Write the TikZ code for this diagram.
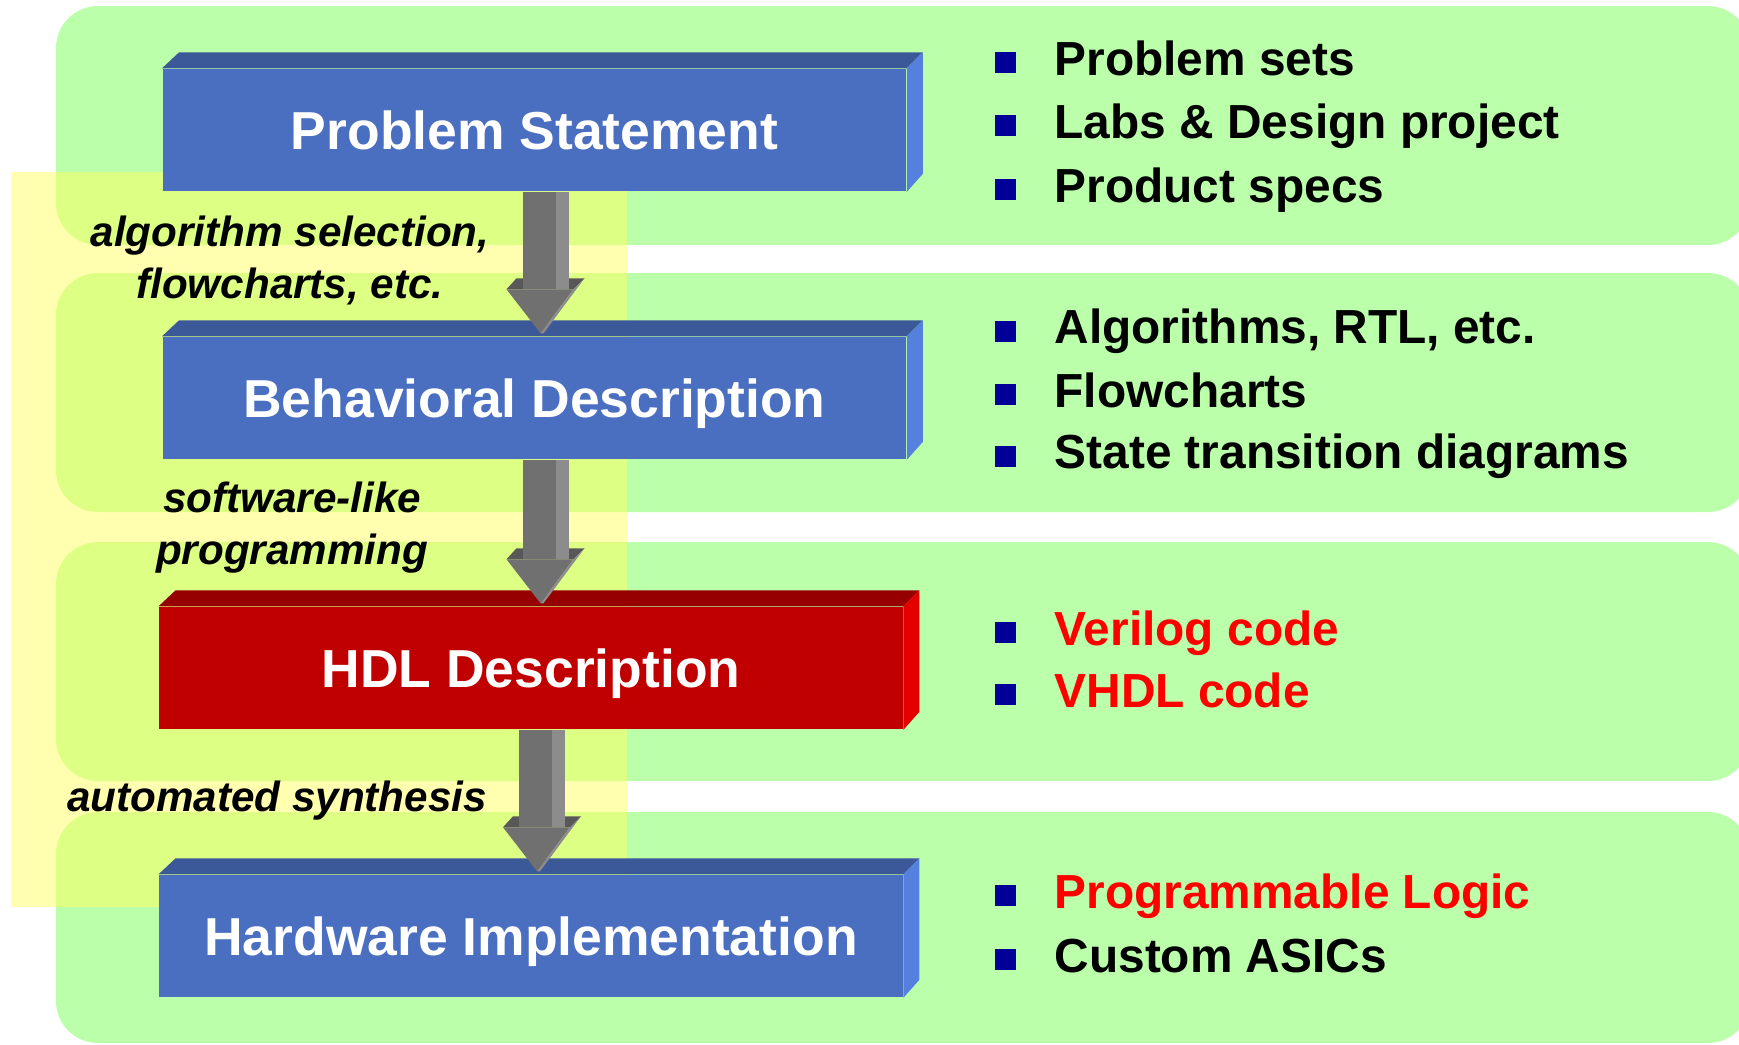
\documentclass[tikz,border=0pt]{standalone}
\usepackage{fontspec}
\setmainfont{Liberation Sans}
\usetikzlibrary{calc}
\definecolor{G1}{RGB}{187,255,170}
\definecolor{Y1}{RGB}{255,255,96}
\definecolor{B1}{RGB}{74,110,192}
\definecolor{B2}{RGB}{59,88,152}
\definecolor{B3}{RGB}{86,128,222}
\definecolor{R1}{RGB}{192,0,0}
\definecolor{R2}{RGB}{150,0,0}
\definecolor{R3}{RGB}{228,0,0}
\definecolor{N1}{RGB}{0,0,153}
\definecolor{A1}{RGB}{112,112,112}
\definecolor{A2}{RGB}{140,140,140}
\definecolor{A3}{RGB}{88,88,88}
% top and side faces of a box
\newcommand\bevel[3]{%
  \fill[#2] (#1.north west) -- ++(17,-16) -- ($(#1.north east)+(16,-16)$) -- (#1.north east) -- cycle;
  \fill[#3] (#1.north east) -- ++(16,-16) -- ($(#1.south east)+(16,-18)$) -- (#1.south east) -- cycle;
}
% thick grey arrow from one box to the next
\newcommand\flowarrow[2]{%
  \coordinate (s) at ($(#1.south)+(6,0)$);
  \coordinate (t) at ($(#1.south |- #2.north)+(6,-3)$);
  \fill[arrtop] ($(t)+(-34,-44)$) -- ($(t)+(-24,-55)$) -- ($(t)+(44,-55)$) -- ($(t)+(33,-44)$) -- cycle;
  \fill[arrmain] ($(t)+(-34,-44)$) -- ($(t)+(33,-44)$) -- (t) -- cycle;
  \fill[arrside] ($(t)+(33,-44)$) -- ($(t)+(44,-55)$) -- ($(t)+(3,0)$) -- (t) -- cycle;
  \fill[arrmain] ($(s)+(-18,0)$) rectangle ($(t)+(15,-44)$);
  \fill[arrside] ($(s)+(15,0)$) rectangle ($(t)+(28,-44)$);
}
\begin{document}
\begin{tikzpicture}[x=0.01cm, y=-0.01cm,
    band/.style={fill=G1, rounded corners=0.42cm},
    hilite/.style={fill=Y1, fill opacity=0.5},
    slab/.style={minimum width=7.43cm, minimum height=1.22cm, inner sep=0pt, text depth=0pt,
                 text=white, font=\fontsize{15.2}{18}\selectfont\bfseries},
    bluebox/.style={slab, fill=B1},
    redbox/.style={slab, fill=R1},
    note/.style={align=center, inner sep=0pt, font=\fontsize{12}{14.8}\selectfont\bfseries\itshape},
    itemtext/.style={anchor=base west, inner sep=0pt, font=\fontsize{13.6}{16}\selectfont\bfseries},
    bullet/.style={fill=N1, minimum size=0.21cm, inner sep=0pt},
    arrmain/.style={fill=A1}, arrside/.style={fill=A2}, arrtop/.style={fill=A3}]
  \useasboundingbox (0,0) rectangle (1739,1044);
  \clip (0,0) rectangle (1739,1044);

  % background bands
  \fill[band] (56,6) rectangle (1750,245);
  \fill[band] (56,273) rectangle (1750,512);
  \fill[band] (56,542) rectangle (1750,781);
  \fill[band] (56,812) rectangle (1750,1043);
  \fill[hilite] (11,172) rectangle (627,907);

  % design steps
  \node[bluebox] (ps) at (534.5,130) {Problem Statement};
  \node[bluebox] (bd) at (534.5,398) {Behavioral Description};
  \node[redbox]  (hd) at (531,668) {HDL Description};
  \node[bluebox] (hw) at (531,936) {Hardware Implementation};
  \bevel{ps}{B2}{B3}
  \bevel{bd}{B2}{B3}
  \bevel{hd}{R2}{R3}
  \bevel{hw}{B2}{B3}

  \flowarrow{ps}{bd}
  \flowarrow{bd}{hd}
  \flowarrow{hd}{hw}

  \node[note] (n1) at (290,260) {algorithm selection,\\flowcharts, etc.};
  \node[note] (n2) at (292,528) {software-like\\programming};
  \node[note, anchor=base] (n3) at (277,811) {automated synthesis};

  % lists
  \node[bullet] (q1) at (1005,62) {};
  \node[itemtext] (i1) at (1054,75) {Problem sets};
  \node[bullet] (q2) at (1005,125) {};
  \node[itemtext] (i2) at (1054,138) {Labs \& Design project};
  \node[bullet] (q3) at (1005,189) {};
  \node[itemtext] (i3) at (1054,202) {Product specs};

  \node[bullet] (q4) at (1005,331) {};
  \node[itemtext] (i4) at (1054,343) {Algorithms, RTL, etc.};
  \node[bullet] (q5) at (1005,394) {};
  \node[itemtext] (i5) at (1054,407) {Flowcharts};
  \node[bullet] (q6) at (1005,456) {};
  \node[itemtext] (i6) at (1054,468) {State transition diagrams};

  \node[bullet] (q7) at (1005,632) {};
  \node[itemtext, text=red] (i7) at (1054,645) {Verilog code};
  \node[bullet] (q8) at (1005,694) {};
  \node[itemtext, text=red] (i8) at (1054,707) {VHDL code};

  \node[bullet] (q9) at (1005,895) {};
  \node[itemtext, text=red] (i9) at (1054,908) {Programmable Logic};
  \node[bullet] (q10) at (1005,959) {};
  \node[itemtext] (i10) at (1054,972) {Custom ASICs};
\end{tikzpicture}
\end{document}
